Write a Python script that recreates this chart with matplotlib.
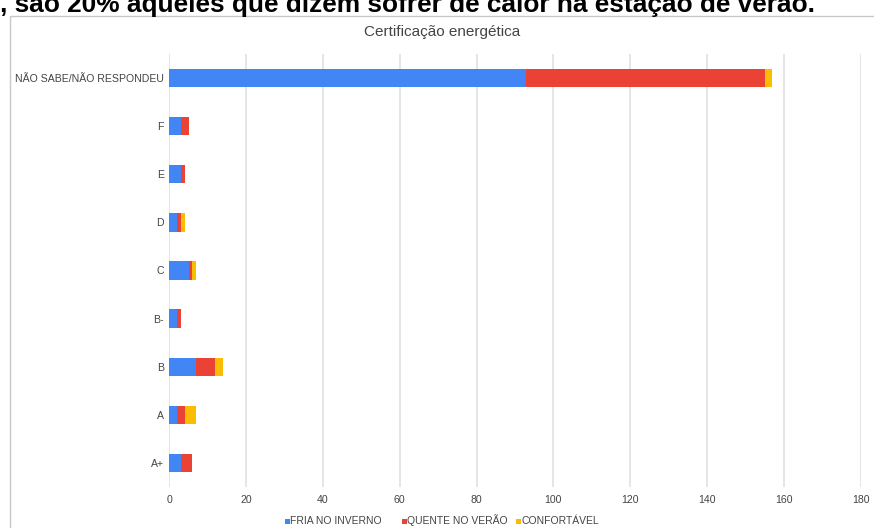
import matplotlib
matplotlib.use("Agg")
import matplotlib.pyplot as plt
from matplotlib.patches import Rectangle

plt.rcParams['font.family'] = ['Liberation Sans', 'DejaVu Sans']

categories = ["NÃO SABE/NÃO RESPONDEU", "F", "E", "D", "C", "B-", "B", "A", "A+"]
fria_inverno = [93, 3, 3, 2, 5, 2, 7, 2, 3]
quente_verao = [62, 2, 1, 1, 1, 1, 5, 2, 3]
confortavel = [2, 0, 0, 1, 1, 0, 2, 3, 0]
series_names = ["FRIA NO INVERNO", "QUENTE NO VERÃO", "CONFORTÁVEL"]
series_colors = ["#4285F4", "#EA4335", "#FBBC04"]
x_ticks = [0, 20, 40, 60, 80, 100, 120, 140, 160, 180]

W, H = 874, 528
fig = plt.figure(figsize=(W / 100, H / 100), dpi=100)

# caption line above the chart frame (runs past the top edge of the canvas)
fig.text(0 / W, 1 - 12 / H, ", são 20% aqueles que dizem sofrer de calor na estação de verão.",
         fontsize=18.9, fontweight='bold', color='#000000', ha='left', va='baseline')

# chart frame
fig.patches.append(Rectangle((10 / W, -0.01), (W - 10) / W + 0.01, 1 - 16 / H + 0.01,
                             transform=fig.transFigure, fill=False,
                             edgecolor='#c8c8c8', linewidth=1.0))

left, right = 169.3 / W, 860.5 / W
top, bottom = 1 - 54 / H, 1 - 487 / H
ax = fig.add_axes([left, bottom, right - left, top - bottom])

ypos = list(range(len(categories)))
bar_h = 0.38
base = [0] * len(categories)
for vals, name, col in zip([fria_inverno, quente_verao, confortavel], series_names, series_colors):
    ax.barh(ypos, vals, left=base, height=bar_h, color=col, label=name, zorder=3)
    base = [b + v for b, v in zip(base, vals)]

ax.set_ylim(len(categories) - 0.5, -0.5)
ax.set_yticks(ypos)
ax.set_yticklabels(categories)
ax.set_xlim(0, 180)
ax.set_xticks(x_ticks)
ax.grid(axis='x', color='#e0e0e0', linewidth=1.2, zorder=0)
for s in ax.spines.values():
    s.set_visible(False)
ax.tick_params(axis='both', length=0, labelsize=7.6, colors='#444444')
ax.tick_params(axis='y', pad=4)
ax.tick_params(axis='x', pad=6)

fig.text(442 / W, 1 - 32 / H, "Certificação energética", ha='center', va='center',
         fontsize=11, color='#444444')

# legend entries: small square swatch followed by the series name
legend_x = [285, 401.7, 516]
legend_baseline = 523.5
for lx, name, col in zip(legend_x, series_names, series_colors):
    fig.patches.append(Rectangle((lx / W, 1 - legend_baseline / H), 5 / W, 5 / H,
                                 transform=fig.transFigure, facecolor=col,
                                 edgecolor='none'))
    fig.text((lx + 5.5) / W, 1 - legend_baseline / H, name, ha='left', va='baseline',
             fontsize=7.5, color='#444444')

fig.savefig("out.png", dpi=100)
